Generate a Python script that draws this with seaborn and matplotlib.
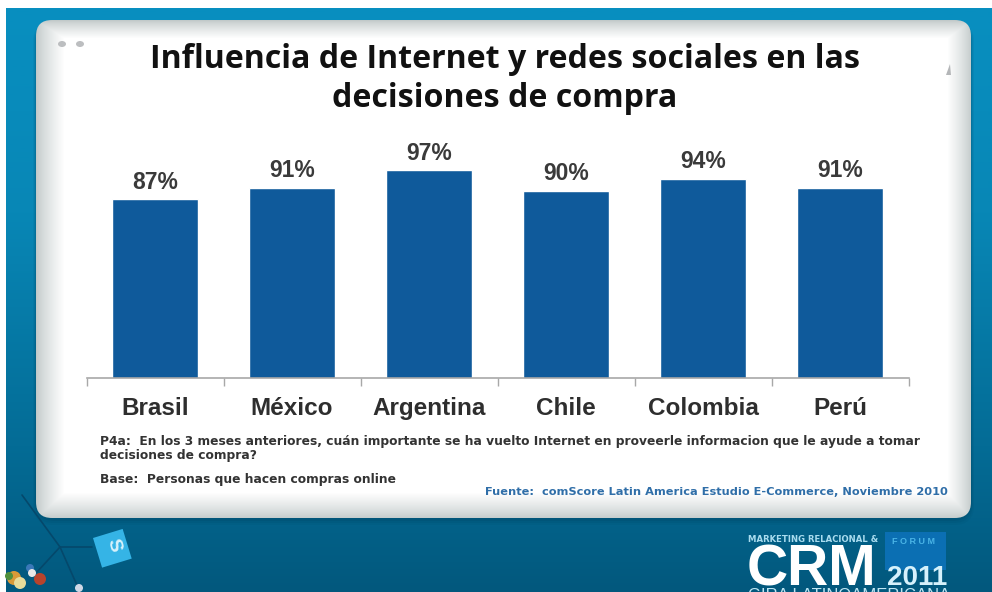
import numpy as np
import pandas as pd
import matplotlib
matplotlib.use("Agg")
import matplotlib.pyplot as plt
from matplotlib.patches import FancyBboxPatch, Rectangle, Circle, Ellipse, Polygon
from matplotlib.transforms import Affine2D
import seaborn as sns

paises = ["Brasil", "México", "Argentina", "Chile", "Colombia", "Perú"]
influencia = [87, 91, 97, 90, 94, 91]

titulo = "Influencia de Internet y redes sociales en las\ndecisiones de compra"
pregunta = ("P4a:  En los 3 meses anteriores, cuán importante se ha vuelto Internet en proveerle informacion que le ayude a tomar\n"
            "decisiones de compra?")
base = "Base:  Personas que hacen compras online"
fuente = "Fuente:  comScore Latin America Estudio E-Commerce, Noviembre 2010"

W, H = 992, 592
BAR = "#0f5a9b"
INK = "#2e2e2e"

sns.set_theme(style="white")
plt.rcParams["font.family"] = ["Liberation Sans", "DejaVu Sans"]

fig = plt.figure(figsize=(W / 100, H / 100), dpi=100, facecolor="white")

# Backdrop layer in pixel coordinates
bg = fig.add_axes([0, 0, 1, 1], zorder=0)
bg.set_xlim(0, W)
bg.set_ylim(H, 0)
bg.axis("off")

# Blue slide background, darkening towards the bottom
stops_y = np.array([0, 0.35, 0.75, 1.0])
blue = np.array([[8, 143, 192], [8, 135, 182], [4, 108, 150], [2, 88, 125]]) / 255
t = np.linspace(0, 1, 256)
grad = np.stack([np.interp(t, stops_y, blue[:, i]) for i in range(3)], axis=1)[:, None, :]
bg.imshow(grad, extent=(6, W, H, 8), aspect="auto", zorder=1)

# Soft drop shadow below the panel
for grow, alpha in [(6, 0.06), (4, 0.08), (2, 0.12)]:
    bg.add_patch(FancyBboxPatch((36 - grow / 2, 22), 935 + grow, 497 + grow,
                                boxstyle="round,pad=0,rounding_size=20",
                                fc="#00324a", ec="none", alpha=alpha, zorder=2))

# White panel with shaded rim, clipped to a rounded outline
x = np.arange(36, 972)
y = np.arange(20, 519)
left = np.clip((x - 36) / 28, 0, 1) ** 0.8
right = np.clip((971 - x) / 24, 0, 1) ** 0.8
top = np.clip((y - 20) / 18, 0, 1) ** 0.8
bottom = np.clip((518 - y) / 26, 0, 1) ** 0.8
shade = np.minimum.outer(top, np.minimum(left, right))
shade = np.minimum(shade, bottom[:, None])
rim = np.array([0.76, 0.79, 0.79])
panel_rgb = rim + (np.array([1.0, 1.0, 1.0]) - rim) * shade[..., None]
im = bg.imshow(panel_rgb, extent=(36, 972, 519, 20), aspect="auto", zorder=3)
clip = FancyBboxPatch((36, 20), 935, 498, boxstyle="round,pad=0,rounding_size=16",
                      fc="none", ec="none", transform=bg.transData)
bg.add_patch(clip)
im.set_clip_path(clip)

# Window buttons and resize mark in the panel corners
for cx in (62, 80):
    bg.add_patch(Ellipse((cx, 44), 8, 6, fc="#bcbec0", ec="none", zorder=4))
bg.add_patch(Polygon([[946, 75], [951, 75], [950, 64]], fc="#b4b6b8", ec="none", zorder=4))
bg.set_xlim(0, W)
bg.set_ylim(H, 0)

# Network lines and icons in the lower left corner
for xs, ys in [((22, 60, 80), (495, 547, 592)), ((60, 37), (547, 572)), ((60, 92), (547, 547))]:
    bg.plot(xs, ys, color="#05486b", lw=1.2, zorder=2)
bg.add_patch(Rectangle((0, 0), 31, 31, fc="#35b4e6", ec="none", zorder=3,
                       transform=Affine2D().rotate_deg(-17).translate(93, 538) + bg.transData))
bg.text(113, 545, "S", color="#d8f2fb", fontsize=14, fontweight="bold",
        ha="center", va="center", rotation=-75, zorder=4)
for cx, cy, c, r in [(14, 578, "#d99a38", 7), (20, 583, "#e8dc9a", 6), (30, 568, "#3a78b8", 4),
                     (40, 579, "#b8432c", 6), (32, 573, "#e8e8e8", 4), (9, 576, "#4f8f3c", 4)]:
    bg.add_patch(Circle((cx, cy), r, fc=c, ec="none", zorder=3))
bg.add_patch(Circle((79, 588), 4, fc="#cfd8e6", ec="none", zorder=3))

# Event logo in the lower right corner
bg.add_patch(Rectangle((885, 532), 61, 38, fc="#0b6fb3", ec="none", zorder=2))
bg.text(748, 539, "MARKETING RELACIONAL &", color="#a9dcef", fontsize=6.1, fontweight="bold",
        ha="left", va="center", family="Liberation Sans Narrow", zorder=3)
bg.text(892, 541, "F O R U M", color="#49b4e6", fontsize=6.5, fontweight="bold",
        ha="left", va="center", zorder=3)
bg.text(747, 585, "CRM", color="white", fontsize=41, fontweight="bold",
        ha="left", va="baseline", zorder=3)
bg.text(887, 585, "2011", color="#d6f1fb", fontsize=20, fontweight="bold",
        ha="left", va="baseline", zorder=3)
bg.text(748, 600, "GIRA LATINOAMERICANA", color="#bfe6f4", fontsize=12,
        ha="left", va="baseline", zorder=3)

# Bar chart; the value axis is truncated as on the slide
PX_PER_PCT = 2.9
floor_y, roof_y = 378, 130
x0, x1 = 86.5, 908.5
ax = fig.add_axes([x0 / W, 1 - floor_y / H, (x1 - x0) / W, (floor_y - roof_y) / H], zorder=2)
ax.patch.set_alpha(0)
df = pd.DataFrame({"pais": paises, "influencia": influencia})
sns.barplot(data=df, x="pais", y="influencia", color=BAR, width=0.635, saturation=1, ax=ax)
ymin = 25.35
ax.set_ylim(ymin, ymin + (floor_y - roof_y) / PX_PER_PCT)
ax.set_xlim(-0.5, len(paises) - 0.5)
sns.despine(ax=ax, left=True)
ax.spines["bottom"].set_color("#a8a8a8")
ax.spines["bottom"].set_linewidth(1.2)
ax.set_yticks([])
ax.set_xlabel("")
ax.set_ylabel("")
ax.set_xticks(np.arange(-0.5, len(paises)), minor=True)
ax.tick_params(axis="x", which="minor", bottom=True, length=5.5, width=1.0, color="#a8a8a8")
ax.tick_params(axis="x", which="major", bottom=False, pad=8, labelsize=17.5, labelcolor=INK)
for lab in ax.get_xticklabels():
    lab.set_fontweight("bold")
for cont in ax.containers:
    ax.bar_label(cont, labels=[f"{v}%" for v in influencia], padding=4,
                 fontsize=16.5, fontweight="bold", color="#3a3a3a")

# Slide texts
fig.text(505 / W, 1 - 79 / H, titulo, ha="center", va="center", fontsize=23.1,
         fontweight="bold", family="Open Sans", color="#111111", linespacing=1.27, zorder=3)
fig.text(100 / W, 1 - 448 / H, pregunta, ha="left", va="center", fontsize=8.85,
         fontweight="bold", family="DejaVu Sans", color="#333333", linespacing=1.1, zorder=3)
fig.text(100 / W, 1 - 479 / H, base, ha="left", va="center", fontsize=8.85,
         fontweight="bold", family="DejaVu Sans", color="#333333", zorder=3)
fig.text(948 / W, 1 - 492 / H, fuente, ha="right", va="center", fontsize=8.2,
         fontweight="bold", family="DejaVu Sans", color="#2f6ea8", zorder=3)

fig.savefig("out.png", dpi=100, facecolor="white")
